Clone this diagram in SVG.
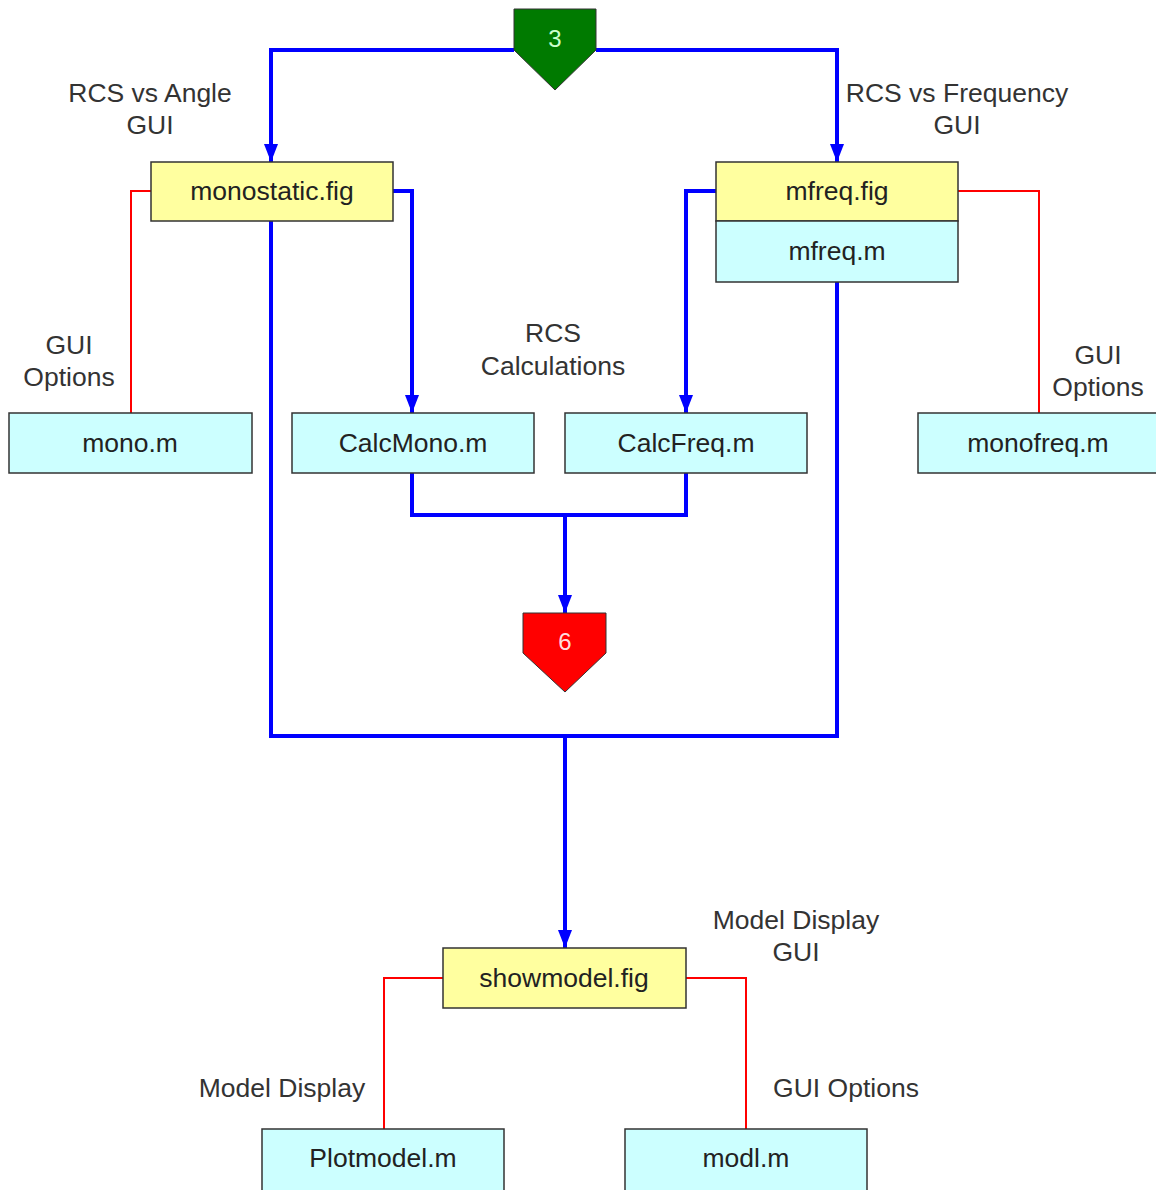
<svg xmlns="http://www.w3.org/2000/svg" width="1156" height="1190" viewBox="0 0 1156 1190">
<style>
text{font-family:"Liberation Sans",Arial,sans-serif;}
.lbl{font-size:26.5px;fill:#333;text-anchor:middle;}
.bt{font-size:26.5px;fill:#222;text-anchor:middle;}
.fig{fill:#ffff9f;stroke:#333;stroke-width:1.5;}
.m{fill:#ccffff;stroke:#333;stroke-width:1.5;}
.blue{fill:none;stroke:#0000ff;stroke-width:4;}
.red{fill:none;stroke:#ff0000;stroke-width:2;}
.pt{font-size:24px;text-anchor:middle;}
</style>
<defs>
<marker id="ah" markerUnits="userSpaceOnUse" markerWidth="20" markerHeight="16" refX="18" refY="7" orient="auto">
<path d="M0,0 L18,7 L0,14 z" fill="#0000ff"/>
</marker>
</defs>
<rect width="1156" height="1190" fill="#fff"/>
<g id="connectors">
<path class="blue" d="M514 50 H271 V162" marker-end="url(#ah)"/>
<path class="blue" d="M596 50 H837 V162" marker-end="url(#ah)"/>
<path class="blue" d="M393 191 H412 V413" marker-end="url(#ah)"/>
<path class="blue" d="M716 191 H686 V413" marker-end="url(#ah)"/>
<path class="blue" d="M412 473 V515 H686 V473"/>
<path class="blue" d="M565 515 V613" marker-end="url(#ah)"/>
<path class="blue" d="M271 221 V736 H837 V282"/>
<path class="blue" d="M565 736 V948" marker-end="url(#ah)"/>
<path class="red" d="M151 191 H131 V413"/>
<path class="red" d="M958 191 H1039 V413"/>
<path class="red" d="M443 978 H384 V1129"/>
<path class="red" d="M686 978 H746 V1129"/>
</g>
<g id="node-3">
<polygon points="514,9 596,9 596,50 555,90 514,50" fill="#007a00" stroke="#333" stroke-width="1"/>
<text class="pt" x="555" y="47" fill="#ccffcc">3</text>
</g>
<g id="node-6">
<polygon points="523,613 606,613 606,653 565,692 523,653" fill="#ff0000" stroke="#333" stroke-width="1"/>
<text class="pt" x="565" y="650" fill="#ffdddd">6</text>
</g>
<g id="node-monostatic">
<rect class="fig" x="151" y="162" width="242" height="59"/>
<text class="bt" x="272" y="200">monostatic.fig</text>
</g>
<g id="node-mfreq">
<rect class="fig" x="716" y="162" width="242" height="59"/>
<text class="bt" x="837" y="200">mfreq.fig</text>
<rect class="m" x="716" y="221" width="242" height="61"/>
<text class="bt" x="837" y="260">mfreq.m</text>
</g>
<g id="node-mono">
<rect class="m" x="9" y="413" width="243" height="60"/>
<text class="bt" x="130" y="452">mono.m</text>
</g>
<g id="node-calcmono">
<rect class="m" x="292" y="413" width="242" height="60"/>
<text class="bt" x="413" y="452">CalcMono.m</text>
</g>
<g id="node-calcfreq">
<rect class="m" x="565" y="413" width="242" height="60"/>
<text class="bt" x="686" y="452">CalcFreq.m</text>
</g>
<g id="node-monofreq">
<rect class="m" x="918" y="413" width="240" height="60"/>
<text class="bt" x="1038" y="452">monofreq.m</text>
</g>
<g id="node-showmodel">
<rect class="fig" x="443" y="948" width="243" height="60"/>
<text class="bt" x="564" y="987">showmodel.fig</text>
</g>
<g id="node-plotmodel">
<rect class="m" x="262" y="1129" width="242" height="62"/>
<text class="bt" x="383" y="1167">Plotmodel.m</text>
</g>
<g id="node-modl">
<rect class="m" x="625" y="1129" width="242" height="62"/>
<text class="bt" x="746" y="1167">modl.m</text>
</g>
<g id="labels">
<text class="lbl" x="150" y="102">RCS vs Angle</text>
<text class="lbl" x="150" y="134">GUI</text>
<text class="lbl" x="957" y="102">RCS vs Frequency</text>
<text class="lbl" x="957" y="134">GUI</text>
<text class="lbl" x="69" y="354">GUI</text>
<text class="lbl" x="69" y="386">Options</text>
<text class="lbl" x="553" y="342">RCS</text>
<text class="lbl" x="553" y="375">Calculations</text>
<text class="lbl" x="1098" y="364">GUI</text>
<text class="lbl" x="1098" y="396">Options</text>
<text class="lbl" x="796" y="929">Model Display</text>
<text class="lbl" x="796" y="961">GUI</text>
<text class="lbl" x="282" y="1097">Model Display</text>
<text class="lbl" x="846" y="1097">GUI Options</text>
</g>
</svg>
